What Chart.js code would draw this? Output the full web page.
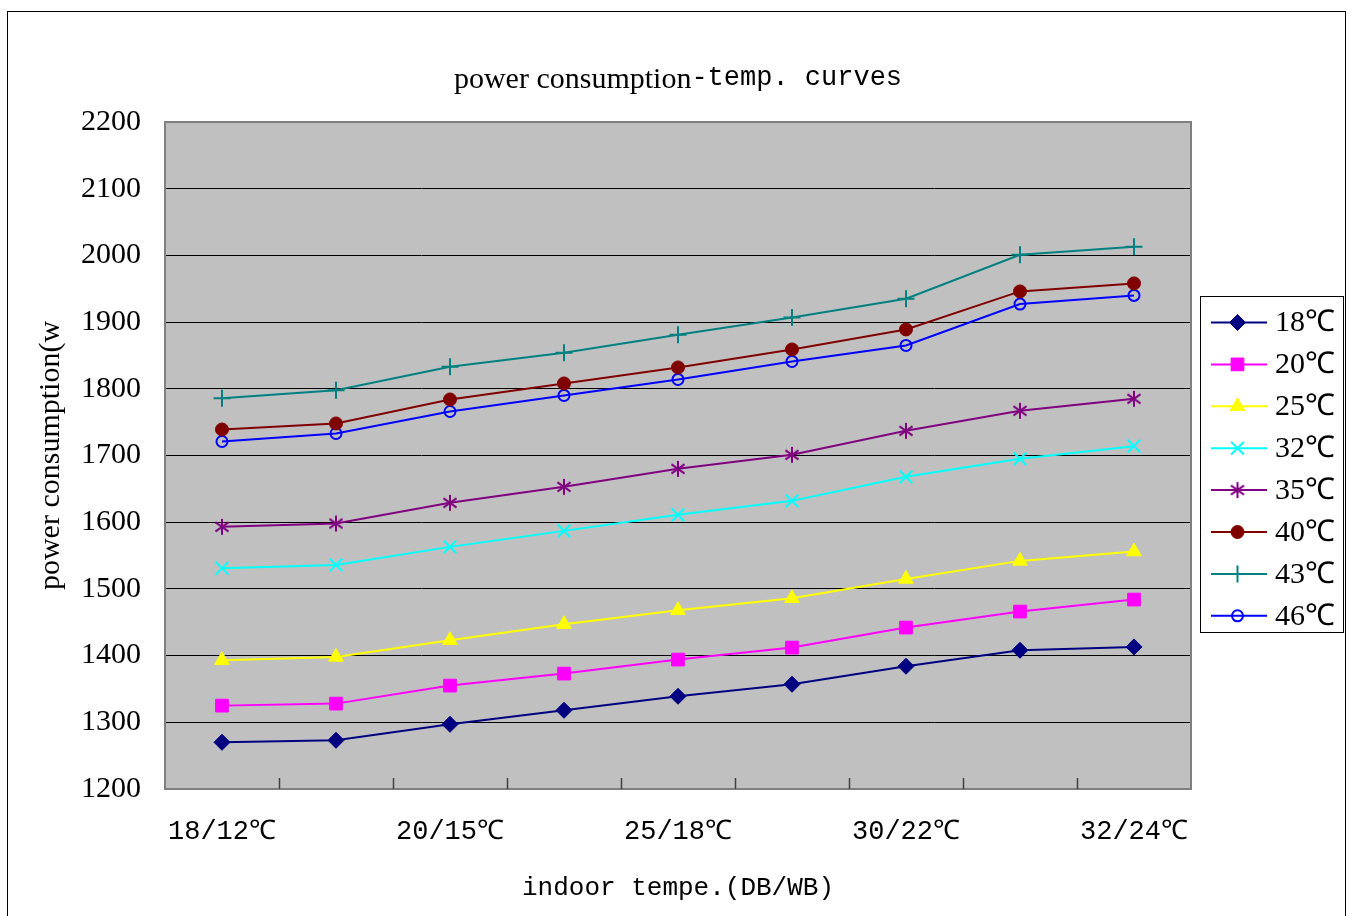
<!DOCTYPE html>
<html><head><meta charset="utf-8">
<script src="https://cdn.jsdelivr.net/npm/chart.js@4.4.0/dist/chart.umd.min.js"></script>
<style>html,body{margin:0;padding:0;background:#fff;overflow:hidden}canvas{display:block}</style>
</head><body>
<canvas id="c" width="1349" height="916"></canvas>
<script>
// ---- data ----
const categories = ['18/12℃', '', '20/15℃', '', '25/18℃', '', '30/22℃', '', '32/24℃'];
const seriesNames = ['18℃', '20℃', '25℃', '32℃', '35℃', '40℃', '43℃', '46℃'];
const s18 = [1270, 1273, 1297, 1318, 1339, 1357, 1384, 1408, 1413];
const s20 = [1325, 1328, 1355, 1373, 1394, 1412, 1442, 1466, 1484];
const s25 = [1393, 1398, 1423, 1447, 1468, 1486, 1515, 1542, 1556];
const s32 = [1531, 1536, 1563, 1587, 1611, 1632, 1668, 1695, 1714];
const s35 = [1593, 1598, 1629, 1653, 1680, 1701, 1737, 1767, 1785];
const s40 = [1739, 1748, 1784, 1808, 1832, 1859, 1889, 1946, 1958];
const s43 = [1786, 1798, 1833, 1854, 1881, 1907, 1935, 2001, 2013];
const s46 = [1721, 1733, 1766, 1790, 1814, 1841, 1865, 1927, 1940];
const yTickValues = [1200, 1300, 1400, 1500, 1600, 1700, 1800, 1900, 2000, 2100, 2200];
const titleMain = 'power consumption';
const titleRest = '-temp. curves';
const xAxisTitle = 'indoor tempe.(DB/WB)';
const yAxisTitle = 'power consumption(w';

// ---- styles ----
function makeAsterisk(color, r, lw) {
  const s = Math.ceil(2 * r + lw + 2);
  const c = document.createElement('canvas');
  c.width = s; c.height = s;
  const g = c.getContext('2d');
  g.strokeStyle = color; g.lineWidth = lw; g.lineCap = 'butt';
  const m = s / 2;
  g.beginPath();
  [90, 35, 145].forEach(a => {
    const rad = a * Math.PI / 180;
    g.moveTo(m - r * Math.cos(rad), m - r * Math.sin(rad));
    g.lineTo(m + r * Math.cos(rad), m + r * Math.sin(rad));
  });
  g.stroke();
  return c;
}
const seriesValues = [s18, s20, s25, s32, s35, s40, s43, s46];
const lineColors = ['#000080', '#FF00FF', '#FFFF00', '#00FFFF', '#800080', '#800000', '#008080', '#0000FF'];
const pointStyles = ['rectRot', 'rect', 'triangle', 'crossRot', makeAsterisk('#800080', 8, 2), 'circle', 'cross', 'circle'];
const pointRadii = [8, 9, 8.5, 9, 8, 6.5, 8.5, 5.5];
const pointFills = ['#000080', '#FF00FF', '#FFFF00', '#00FFFF', '#800080', '#800000', '#008080', 'rgba(0,0,0,0)'];
const pointBorderWidths = [1, 1, 1, 2, 2, 1, 2, 2];

const datasets = seriesNames.map((name, i) => ({
  label: name,
  data: seriesValues[i],
  borderColor: lineColors[i],
  backgroundColor: pointFills[i],
  borderWidth: 2,
  tension: 0,
  fill: false,
  pointStyle: pointStyles[i],
  pointRadius: pointRadii[i],
  pointHoverRadius: pointRadii[i],
  pointBackgroundColor: pointFills[i],
  pointBorderColor: lineColors[i],
  pointBorderWidth: pointBorderWidths[i]
}));

const decorPlugin = {
  id: 'decor',
  beforeDraw(chart) {
    const ctx = chart.ctx, ca = chart.chartArea;
    ctx.save();
    ctx.fillStyle = '#fff';
    ctx.fillRect(0, 0, chart.width, chart.height);
    ctx.strokeStyle = '#000'; ctx.lineWidth = 1;
    ctx.strokeRect(7.5, 11.5, 1338, 1000);
    ctx.fillStyle = '#C0C0C0';
    ctx.fillRect(ca.left, ca.top, ca.right - ca.left, ca.bottom - ca.top);
    ctx.restore();
  },
  beforeDatasetsDraw(chart) {
    const ctx = chart.ctx, ca = chart.chartArea, xs = chart.scales.x;
    ctx.save();
    ctx.strokeStyle = '#808080'; ctx.lineWidth = 2;
    ctx.strokeRect(ca.left, ca.top, ca.right - ca.left, ca.bottom - ca.top);
    ctx.strokeStyle = '#404040'; ctx.lineWidth = 1.5;
    ctx.beginPath();
    for (let i = 0; i < categories.length - 1; i++) {
      const bx = Math.round((xs.getPixelForValue(i) + xs.getPixelForValue(i + 1)) / 2) + 0.5;
      ctx.moveTo(bx, ca.bottom);
      ctx.lineTo(bx, ca.bottom - 11);
    }
    ctx.stroke();
    ctx.restore();
  },
  afterDraw(chart) {
    const ctx = chart.ctx, ca = chart.chartArea;
    ctx.save();
    // title
    const cx = (ca.left + ca.right) / 2;
    ctx.font = '30px "Liberation Serif"';
    const w1 = ctx.measureText(titleMain).width;
    ctx.font = '27px "Liberation Mono"';
    const w2 = ctx.measureText(titleRest).width;
    let x0 = cx - (w1 + w2) / 2;
    ctx.fillStyle = '#000'; ctx.textBaseline = 'alphabetic'; ctx.textAlign = 'left';
    ctx.font = '30px "Liberation Serif"';
    ctx.fillText(titleMain, x0, 88);
    ctx.font = '27px "Liberation Mono"';
    ctx.fillText(titleRest, x0 + w1, 85);
    // legend
    const bx = 1200.5, by = 296.5, bw = 143, bh = 336;
    ctx.fillStyle = '#fff'; ctx.fillRect(bx, by, bw, bh);
    ctx.strokeStyle = '#000'; ctx.lineWidth = 1; ctx.strokeRect(bx, by, bw, bh);
    chart.data.datasets.forEach((ds, i) => {
      const y = 322.5 + i * 41.9;
      ctx.strokeStyle = ds.borderColor; ctx.lineWidth = ds.borderWidth;
      ctx.beginPath(); ctx.moveTo(1211, y); ctx.lineTo(1267, y); ctx.stroke();
      ctx.fillStyle = ds.pointBackgroundColor; ctx.strokeStyle = ds.pointBorderColor; ctx.lineWidth = ds.pointBorderWidth;
      Chart.helpers.drawPoint(ctx, {pointStyle: ds.pointStyle, radius: ds.pointRadius, rotation: 0, borderWidth: ds.pointBorderWidth}, 1237.5, y);
      ctx.fillStyle = '#000'; ctx.font = '30px "Liberation Serif"'; ctx.textBaseline = 'middle'; ctx.textAlign = 'left';
      ctx.fillText(ds.label, 1275, y + 1);
    });
    ctx.restore();
  }
};

new Chart(document.getElementById('c'), {
  type: 'line',
  data: { labels: categories, datasets },
  options: {
    responsive: false,
    animation: false,
    devicePixelRatio: 1,
    layout: { padding: { left: 0, right: 158, top: 122, bottom: 0 } },
    plugins: { legend: { display: false }, title: { display: false }, tooltip: { enabled: false } },
    scales: {
      x: {
        type: 'category',
        offset: true,
        grid: { display: false, drawTicks: false },
        border: { display: false },
        ticks: { autoSkip: false, maxRotation: 0, minRotation: 0, color: '#000', padding: 27,
                 font: { family: 'Liberation Mono', size: 27 } },
        title: { display: true, text: xAxisTitle, color: '#000', padding: { top: 0, bottom: 12 },
                 font: { family: 'Liberation Mono', size: 26 } },
        afterFit: s => { s.height = 127; }
      },
      y: {
        min: 1200, max: 2200,
        afterBuildTicks: s => { s.ticks = yTickValues.map(v => ({ value: v })); },
        grid: { color: '#000', lineWidth: 1, drawTicks: false },
        border: { display: false },
        ticks: { color: '#000', padding: 24, font: { family: 'Liberation Serif', size: 30 },
                 callback: v => String(v) },
        title: { display: true, text: yAxisTitle, color: '#000', padding: { top: 33, bottom: 0 },
                 font: { family: 'Liberation Serif', size: 30 } },
        afterFit: s => { s.width = 165; }
      }
    }
  },
  plugins: [decorPlugin]
});
</script>
</body></html>
